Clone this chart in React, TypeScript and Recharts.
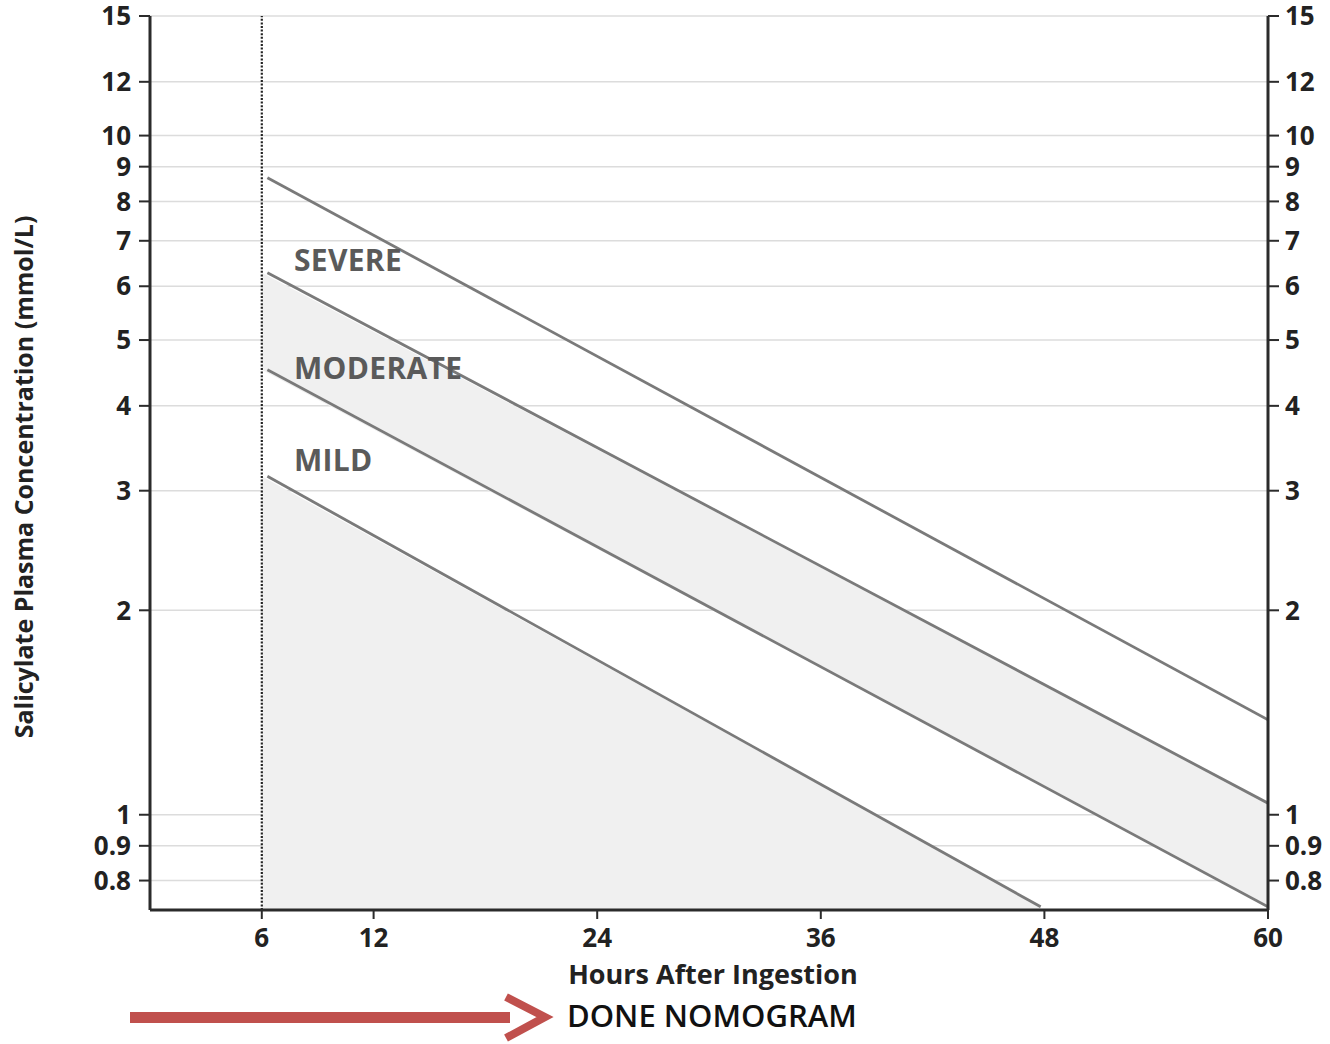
import {
    ComposedChart,
    Line,
    Area,
    XAxis,
    YAxis,
    CartesianGrid,
    ReferenceLine,
    ReferenceDot,
} from 'recharts'

// Hours after ingestion (x) and salicylate concentration in mmol/L (y, log scale)
const X_TICKS = [6, 12, 24, 36, 48, 60]
const Y_TICKS = [0.8, 0.9, 1, 2, 3, 4, 5, 6, 7, 8, 9, 10, 12, 15]
const Y_DOMAIN = [0.724, 15]

// Boundary lines
const severeLine = [
    { h: 6.3, v: 8.67 },
    { h: 60, v: 1.38 },
]
const moderateTopLine = [
    { h: 6.3, v: 6.28 },
    { h: 60, v: 1.04 },
]
const moderateBottomLine = [
    { h: 6.3, v: 4.52 },
    { h: 60, v: 0.732 },
]
const mildLine = [
    { h: 6.3, v: 3.15 },
    { h: 47.8, v: 0.732 },
]

// Shaded zones
const moderateBand = [
    { h: 6, range: [4.52, 6.28] },
    { h: 60, range: [0.732, 1.04] },
]
const mildZone = [
    { h: 6, v: 3.15 },
    { h: 47.8, v: 0.732 },
]

// Zone labels
const zoneLabels = [
    { name: 'SEVERE', h: 7.73, v: 6.54 },
    { name: 'MODERATE', h: 7.73, v: 4.55 },
    { name: 'MILD', h: 7.73, v: 3.33 },
]

const FONT = '"Open Sans", "DejaVu Sans", sans-serif'
const AXIS_COLOR = '#2b2b2b'
const LINE_COLOR = '#7a7a7a'
const FILL = '#f0f0f0'

const tickStyle = { fontSize: 26, fontWeight: 700, fill: '#222', fontFamily: FONT }

export default function App() {
    return (
        <div style={{ position: 'absolute', left: 0, top: 0, width: 1330, height: 1044, background: '#fff' }}>
            <ComposedChart
                width={1330}
                height={1044}
                margin={{ top: 16, right: 0, left: 80, bottom: 84 }}
            >
                <CartesianGrid
                    yAxisId="left"
                    vertical={false}
                    stroke="#dcdcdc"
                    strokeWidth={1.5}
                />
                <XAxis
                    dataKey="h"
                    type="number"
                    domain={[0, 60]}
                    ticks={X_TICKS}
                    allowDataOverflow
                    height={50}
                    tickSize={9}
                    tickMargin={10}
                    tick={tickStyle}
                    axisLine={{ stroke: AXIS_COLOR, strokeWidth: 3 }}
                    tickLine={{ stroke: AXIS_COLOR, strokeWidth: 2 }}
                />
                <YAxis
                    yAxisId="left"
                    scale="log"
                    type="number"
                    domain={Y_DOMAIN}
                    ticks={Y_TICKS}
                    allowDataOverflow
                    width={70}
                    tickSize={11}
                    tickMargin={8}
                    tick={tickStyle}
                    axisLine={{ stroke: AXIS_COLOR, strokeWidth: 3 }}
                    tickLine={{ stroke: AXIS_COLOR, strokeWidth: 2 }}
                    interval={0}
                />
                <YAxis
                    yAxisId="right"
                    orientation="right"
                    scale="log"
                    type="number"
                    domain={Y_DOMAIN}
                    ticks={Y_TICKS}
                    allowDataOverflow
                    width={62}
                    tickSize={11}
                    tickMargin={6}
                    tick={tickStyle}
                    axisLine={{ stroke: AXIS_COLOR, strokeWidth: 3 }}
                    tickLine={{ stroke: AXIS_COLOR, strokeWidth: 2 }}
                    interval={0}
                />

                <Area
                    yAxisId="left"
                    data={mildZone}
                    dataKey="v"
                    type="linear"
                    stroke="none"
                    fill={FILL}
                    fillOpacity={1}
                    isAnimationActive={false}
                />
                <Area
                    yAxisId="left"
                    data={moderateBand}
                    dataKey="range"
                    type="linear"
                    stroke="none"
                    fill={FILL}
                    fillOpacity={1}
                    isAnimationActive={false}
                />

                <ReferenceLine
                    yAxisId="left"
                    x={6}
                    stroke="#222"
                    strokeWidth={2.2}
                    strokeDasharray="2 1.6"
                />

                {[severeLine, moderateTopLine, moderateBottomLine, mildLine].map((d, i) => (
                    <Line
                        key={`line-${i}`}
                        yAxisId="left"
                        data={d}
                        dataKey="v"
                        type="linear"
                        stroke={LINE_COLOR}
                        strokeWidth={2.8}
                        dot={false}
                        activeDot={false}
                        isAnimationActive={false}
                    />
                ))}

                {zoneLabels.map((z) => (
                    <ReferenceDot
                        key={z.name}
                        yAxisId="left"
                        x={z.h}
                        y={z.v}
                        r={0}
                        stroke="none"
                        fill="none"
                        label={{
                            value: z.name,
                            position: 'right',
                            offset: 0,
                            fill: '#5a5a5a',
                            fontSize: 30,
                            fontWeight: 700,
                            fontFamily: FONT,
                            letterSpacing: 0.3,
                        }}
                    />
                ))}
            </ComposedChart>

            {/* titles and the red arrow */}
            <svg
                width={1330}
                height={1044}
                style={{ position: 'absolute', left: 0, top: 0, pointerEvents: 'none' }}
            >
                <text
                    x={23}
                    y={477}
                    transform="rotate(-90 23 477)"
                    textAnchor="middle"
                    dominantBaseline="central"
                    fontFamily={FONT}
                    fontSize={25}
                    fontWeight={700}
                    fill="#222"
                >
                    Salicylate Plasma Concentration (mmol/L)
                </text>
                <text
                    x={713}
                    y={973}
                    textAnchor="middle"
                    dominantBaseline="central"
                    fontFamily={FONT}
                    fontSize={27}
                    fontWeight={700}
                    fill="#222"
                >
                    Hours After Ingestion
                </text>
                <rect x={130} y={1012} width={380} height={11} fill="#c0504d" />
                <polyline
                    points="506,997 545,1017 506,1038"
                    fill="none"
                    stroke="#c0504d"
                    strokeWidth={8}
                />
                <text
                    x={567}
                    y={1015}
                    dominantBaseline="central"
                    fontFamily={FONT}
                    fontSize={31}
                    fontWeight={600}
                    fill="#111"
                >
                    DONE NOMOGRAM
                </text>
            </svg>
        </div>
    )
}
